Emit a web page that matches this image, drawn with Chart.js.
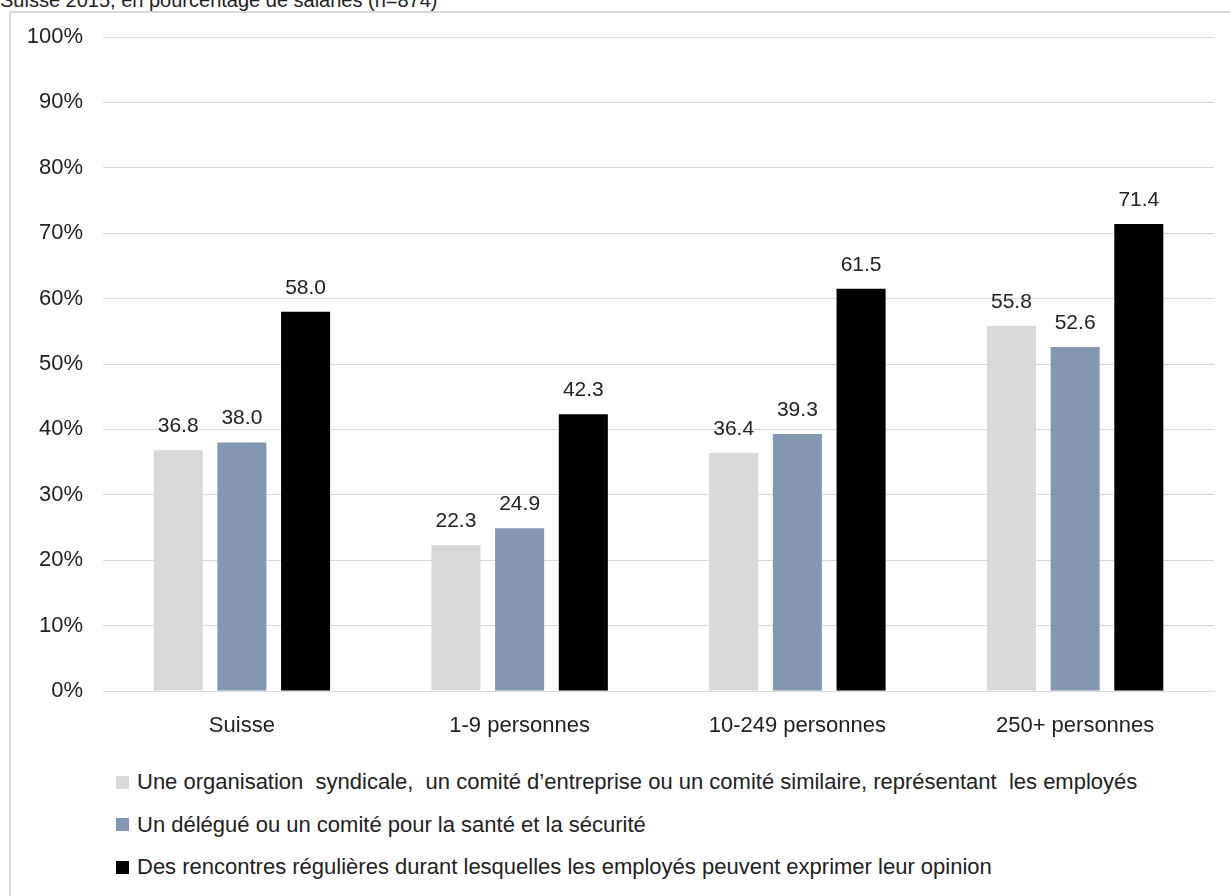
<!DOCTYPE html>
<html>
<head>
<meta charset="utf-8">
<script src="https://cdn.jsdelivr.net/npm/chart.js@4"></script>
<style>
    html, body { margin: 0; overflow: hidden; }
    body { width: 1230px; height: 896px; background: #fff; position: relative; font-family: "Liberation Sans", Arial, sans-serif; color: #222; }
    #subtitle { position: absolute; left: 0; top: -11px; font-size: 20px; white-space: nowrap; }
    #frame { position: absolute; left: 9px; top: 11px; width: 1240px; height: 900px; border-top: 2px solid #d9d9d9; border-left: 2px solid #d9d9d9; }
    #wrap { position: absolute; left: 0; top: 0; width: 1230px; height: 750px; }
    #legend { position: absolute; left: 116px; top: 769px; font-size: 22px; }
    .item { display: flex; align-items: center; height: 26px; margin-bottom: 16.5px; white-space: pre; }
    .box { width: 13px; height: 13px; margin-right: 8px; }
</style>
</head>
<body>
<div id="subtitle">Suisse 2015, en pourcentage de salariés (n=874)</div>
<div id="frame"></div>
<div id="wrap"><canvas id="chart"></canvas></div>
<div id="legend"></div>
<script>
// DATA
const categories = ["Suisse", "1-9 personnes", "10-249 personnes", "250+ personnes"];
const seriesNames = [
    "Une organisation  syndicale,  un comité d’entreprise ou un comité similaire, représentant  les employés",
    "Un délégué ou un comité pour la santé et la sécurité",
    "Des rencontres régulières durant lesquelles les employés peuvent exprimer leur opinion"
];
const syndicat = [36.8, 22.3, 36.4, 55.8];
const delegue = [38.0, 24.9, 39.3, 52.6];
const rencontres = [58.0, 42.3, 61.5, 71.4];
const yTicks = [0, 10, 20, 30, 40, 50, 60, 70, 80, 90, 100];

const colors = ["#d9d9d9", "#8497b0", "#000000"];
const values = [syndicat, delegue, rencontres];
const fontFamily = "'Liberation Sans', Arial, sans-serif";

// value labels above bars
const barLabels = {
    id: "barLabels",
    afterDatasetsDraw(chart) {
        const c = chart.ctx;
        c.save();
        c.font = "21px " + fontFamily;
        c.fillStyle = "#222";
        c.textAlign = "center";
        c.textBaseline = "alphabetic";
        chart.data.datasets.forEach((ds, i) => {
            chart.getDatasetMeta(i).data.forEach((bar, j) => {
                c.fillText(ds.data[j].toFixed(1), bar.x, bar.y - 18);
            });
        });
        c.restore();
    }
};

new Chart(document.getElementById("chart"), {
    type: "bar",
    data: {
        labels: categories,
        datasets: values.map((v, i) => ({
            label: seriesNames[i],
            data: v,
            backgroundColor: colors[i],
            categoryPercentage: 0.688,
            barPercentage: 0.77
        }))
    },
    options: {
        responsive: true,
        maintainAspectRatio: false,
        animation: false,
        layout: { padding: { top: 37, right: 16, left: 0, bottom: 0 } },
        plugins: {
            legend: { display: false },
            tooltip: { enabled: false }
        },
        scales: {
            x: {
                grid: { display: false, drawTicks: false },
                border: { color: "#d9d9d9", width: 1 },
                ticks: {
                    color: "#222",
                    padding: 22,
                    font: { family: fontFamily, size: 22 }
                },
                afterFit(scale) { scale.height = 59; }
            },
            y: {
                min: 0,
                max: 100,
                afterBuildTicks(scale) { scale.ticks = yTicks.map(v => ({ value: v })); },
                grid: { color: "#d9d9d9", lineWidth: 1, drawTicks: false },
                border: { display: false },
                ticks: {
                    color: "#222",
                    padding: 20,
                    font: { family: fontFamily, size: 22 },
                    callback: v => v + "%"
                },
                afterFit(scale) { scale.width = 103; }
            }
        }
    },
    plugins: [barLabels]
});

// LEGEND
const legend = document.getElementById("legend");
seriesNames.forEach((name, i) => {
    const row = document.createElement("div");
    row.className = "item";
    const box = document.createElement("span");
    box.className = "box";
    box.style.background = colors[i];
    const txt = document.createElement("span");
    txt.textContent = name;
    row.appendChild(box);
    row.appendChild(txt);
    legend.appendChild(row);
});
</script>
</body>
</html>
